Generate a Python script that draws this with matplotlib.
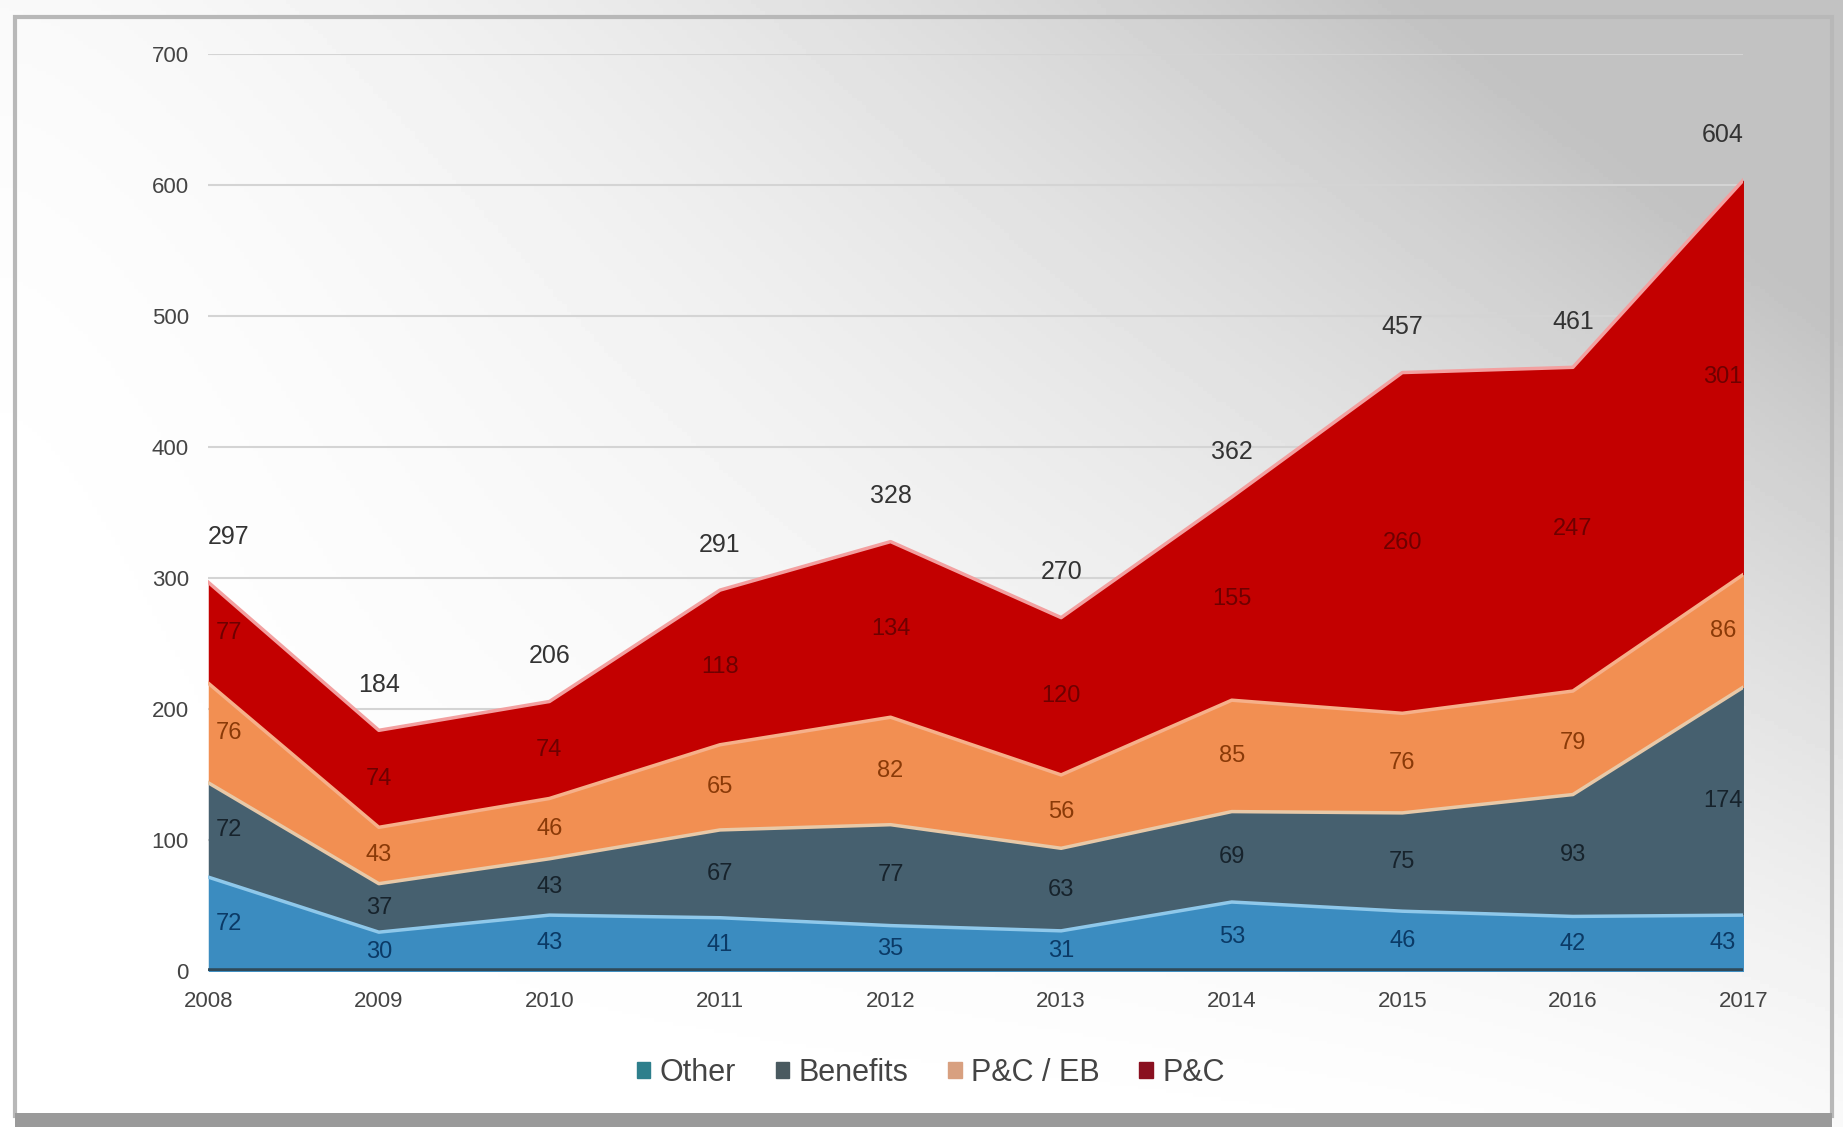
import numpy as np
import matplotlib
matplotlib.use("Agg")
import matplotlib.pyplot as plt
from matplotlib.patches import Rectangle, Patch

plt.rcParams['font.family'] = ['Liberation Sans', 'DejaVu Sans']

years = [2008, 2009, 2010, 2011, 2012, 2013, 2014, 2015, 2016, 2017]
other = [72, 30, 43, 41, 35, 31, 53, 46, 42, 43]
benefits = [72, 37, 43, 67, 77, 63, 69, 75, 93, 174]
pc_eb = [76, 43, 46, 65, 82, 56, 85, 76, 79, 86]
pc = [77, 74, 74, 118, 134, 120, 155, 260, 247, 301]

series = [other, benefits, pc_eb, pc]
names = ["Other", "Benefits", "P&C / EB", "P&C"]
fills = ["#3b8cc0", "#46606f", "#f28f52", "#c30000"]
edges = ["#8fc8ea", "#e8c9a8", "#f6b08a", "#f3a0a0"]
label_colors = ["#0b3a66", "#17232c", "#8a3a08", "#6e0000"]
legend_colors = ["#2e7f8c", "#4a5a60", "#d8a080", "#8a1020"]

fig = plt.figure(figsize=(18.43, 11.27), dpi=100)

# gradient background (white centre/lower-left -> grey upper-right)
bg = fig.add_axes([0, 0, 1, 1], zorder=0)
xx, yy = np.meshgrid(np.linspace(0, 1, 400), np.linspace(0, 1, 300))
shade = 1 - 0.24 * np.clip(xx ** 1.5 * yy ** 1.2 * 1.3 + 0.1 * yy ** 4
                           + 0.1 * xx ** 6, 0, 1)
bg.imshow(shade, cmap="gray", vmin=0, vmax=1, origin="lower",
          extent=[0, 1, 0, 1], aspect="auto")
bg.set_xlim(0, 1)
bg.set_ylim(0, 1)
bg.axis("off")
bg.add_patch(Rectangle((0.008, 0.01), 0.986, 0.975, fill=False,
                       edgecolor="#b8b8b8", lw=3))
bg.add_patch(Rectangle((0.008, 0.0), 0.986, 0.012, color="#9a9a9a", lw=0))

ax = fig.add_axes([0.113, 0.138, 0.833, 0.814], zorder=1)
ax.patch.set_alpha(0)

x = np.array(years)
base = np.zeros(len(years))
for vals, fc, ec, lc in zip(series, fills, edges, label_colors):
    v = np.array(vals)
    top = base + v
    ax.fill_between(x, base, top, color=fc, lw=0, zorder=2)
    ax.plot(x, top, color=ec, lw=2.5, zorder=3)
    mid = base + v / 2
    for i, (xi, yi, val) in enumerate(zip(x, mid, v)):
        dx = 0.12 if i == 0 else (-0.12 if i == len(x) - 1 else 0)
        ax.text(xi + dx, yi, str(val), ha="center", va="center",
                fontsize=17, color=lc, zorder=4)
    base = top

ax.plot(x, np.zeros(len(x)), color="#2f4a5a", lw=4, zorder=3)

totals = base
for i, (xi, t) in enumerate(zip(x, totals)):
    dx = 0.12 if i == 0 else (-0.12 if i == len(x) - 1 else 0)
    ax.annotate(str(int(t)), (xi + dx, t), xytext=(0, 24),
                textcoords="offset points", ha="center", va="bottom",
                fontsize=18, color="#333333")

ax.set_xlim(2008, 2017)
ax.set_ylim(0, 700)
ax.set_yticks(range(0, 701, 100))
ax.set_xticks(years)
ax.tick_params(length=0, labelsize=16, labelcolor="#444444", pad=14)
for s in ax.spines.values():
    s.set_visible(False)
ax.grid(axis="y", color="#d4d4d4", lw=1.5, zorder=1)
ax.set_axisbelow(True)

handles = [Patch(color=c, label=n) for c, n in zip(legend_colors, names)]
fig.legend(handles=handles, loc="center", bbox_to_anchor=(0.505, 0.048),
           ncol=4, frameon=False, fontsize=22, handlelength=0.45,
           handleheight=0.45, handletextpad=0.3, columnspacing=1.3,
           labelcolor="#444444")

fig.savefig("out.png", dpi=100)
